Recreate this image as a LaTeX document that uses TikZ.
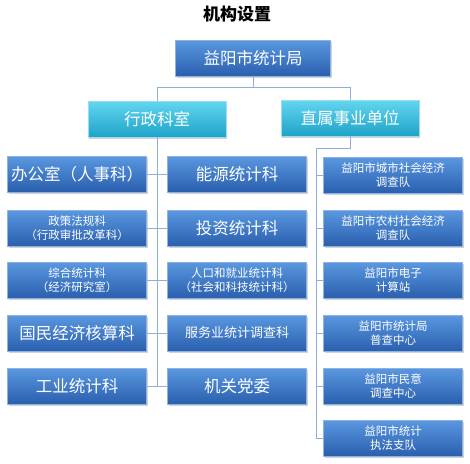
\documentclass[tikz,border=0pt]{standalone}
\usepackage{fontspec}
\setmainfont{Noto Sans CJK SC}
\usepackage{tikz}
\usetikzlibrary{shadows}
\definecolor{linkcol}{HTML}{8FAEDA}
\definecolor{bluetop}{HTML}{5A98E0}
\definecolor{bluebot}{HTML}{2A5FAE}
\definecolor{blueedge}{HTML}{8DB3E2}
\definecolor{cyantop}{HTML}{62D6F0}
\definecolor{cyanbot}{HTML}{1FA3C8}
\definecolor{cyanedge}{HTML}{9ADDEE}
\tikzset{
  unitbox/.style={rectangle,draw=blueedge,top color=bluetop,bottom color=bluebot,
    text=white,minimum width=139pt,minimum height=36pt,inner sep=1pt,align=center,
    drop shadow={opacity=0.35,shadow xshift=1pt,shadow yshift=-1.5pt}},
  deptbox/.style={unitbox,draw=cyanedge,top color=cyantop,bottom color=cyanbot,minimum width=138pt},
  bigtxt/.style={font=\fontsize{16.5}{18}\selectfont},
  midtxt/.style={font=\fontsize{13}{15}\selectfont},
  smalltxt/.style={font=\fontsize{11.5}{13.5}\selectfont},
  link/.style={draw=linkcol,line width=0.9pt}
}

\begin{document}
\begin{tikzpicture}[x=1pt,y=-1pt]
\useasboundingbox (0,0) rectangle (470,463);
\node[font=\fontsize{17}{19}\selectfont\bfseries] (title) at (237,14) {机构设置};
% top level
\node[unitbox,bigtxt,minimum width=155pt] (ju) at (253,58) {益阳市统计局};
\node[deptbox,bigtxt] (xz) at (157,119) {行政科室};
\node[deptbox,bigtxt] (zs) at (350,118) {直属事业单位};
% left column
\node[unitbox,bigtxt] (l1) at (77,174) {办公室（人事科）};
\node[unitbox,smalltxt] (l2) at (77,228) {政策法规科\\（行政审批改革科）};
\node[unitbox,smalltxt] (l3) at (77,280) {综合统计科\\（经济研究室）};
\node[unitbox,bigtxt] (l4) at (77,333) {国民经济核算科};
\node[unitbox,bigtxt] (l5) at (77,386) {工业统计科};
% middle column
\node[unitbox,bigtxt] (m1) at (237,174) {能源统计科};
\node[unitbox,bigtxt] (m2) at (237,228) {投资统计科};
\node[unitbox,smalltxt] (m3) at (237,280) {人口和就业统计科\\（社会和科技统计科）};
\node[unitbox,midtxt] (m4) at (237,333) {服务业统计调查科};
\node[unitbox,bigtxt] (m5) at (237,386) {机关党委};
% right column
\node[unitbox,smalltxt] (r1) at (393,175) {益阳市城市社会经济\\调查队};
\node[unitbox,smalltxt] (r2) at (393,228) {益阳市农村社会经济\\调查队};
\node[unitbox,smalltxt] (r3) at (393,280) {益阳市电子\\计算站};
\node[unitbox,smalltxt] (r4) at (393,333) {益阳市统计局\\普查中心};
\node[unitbox,smalltxt] (r5) at (393,386) {益阳市民意\\调查中心};
\node[unitbox,smalltxt] (r6) at (393,438) {益阳市统计\\执法支队};
% connectors
\draw[link] (ju.south) -- ++(0,11) coordinate (fork);
\draw[link] (xz.north) |- (fork) -| (zs.north);
\draw[link] (xz.south) -- (xz.south |- l5.east);
\foreach \i in {1,...,5}
  \draw[link] (l\i.east) -- (m\i.west);
\coordinate (rtrunk) at (316,148);
\draw[link] (zs.south) |- (rtrunk) -- (rtrunk |- r6.west);
\foreach \i in {1,...,6}
  \draw[link] (rtrunk |- r\i.west) -- (r\i.west);
\end{tikzpicture}
\end{document}
